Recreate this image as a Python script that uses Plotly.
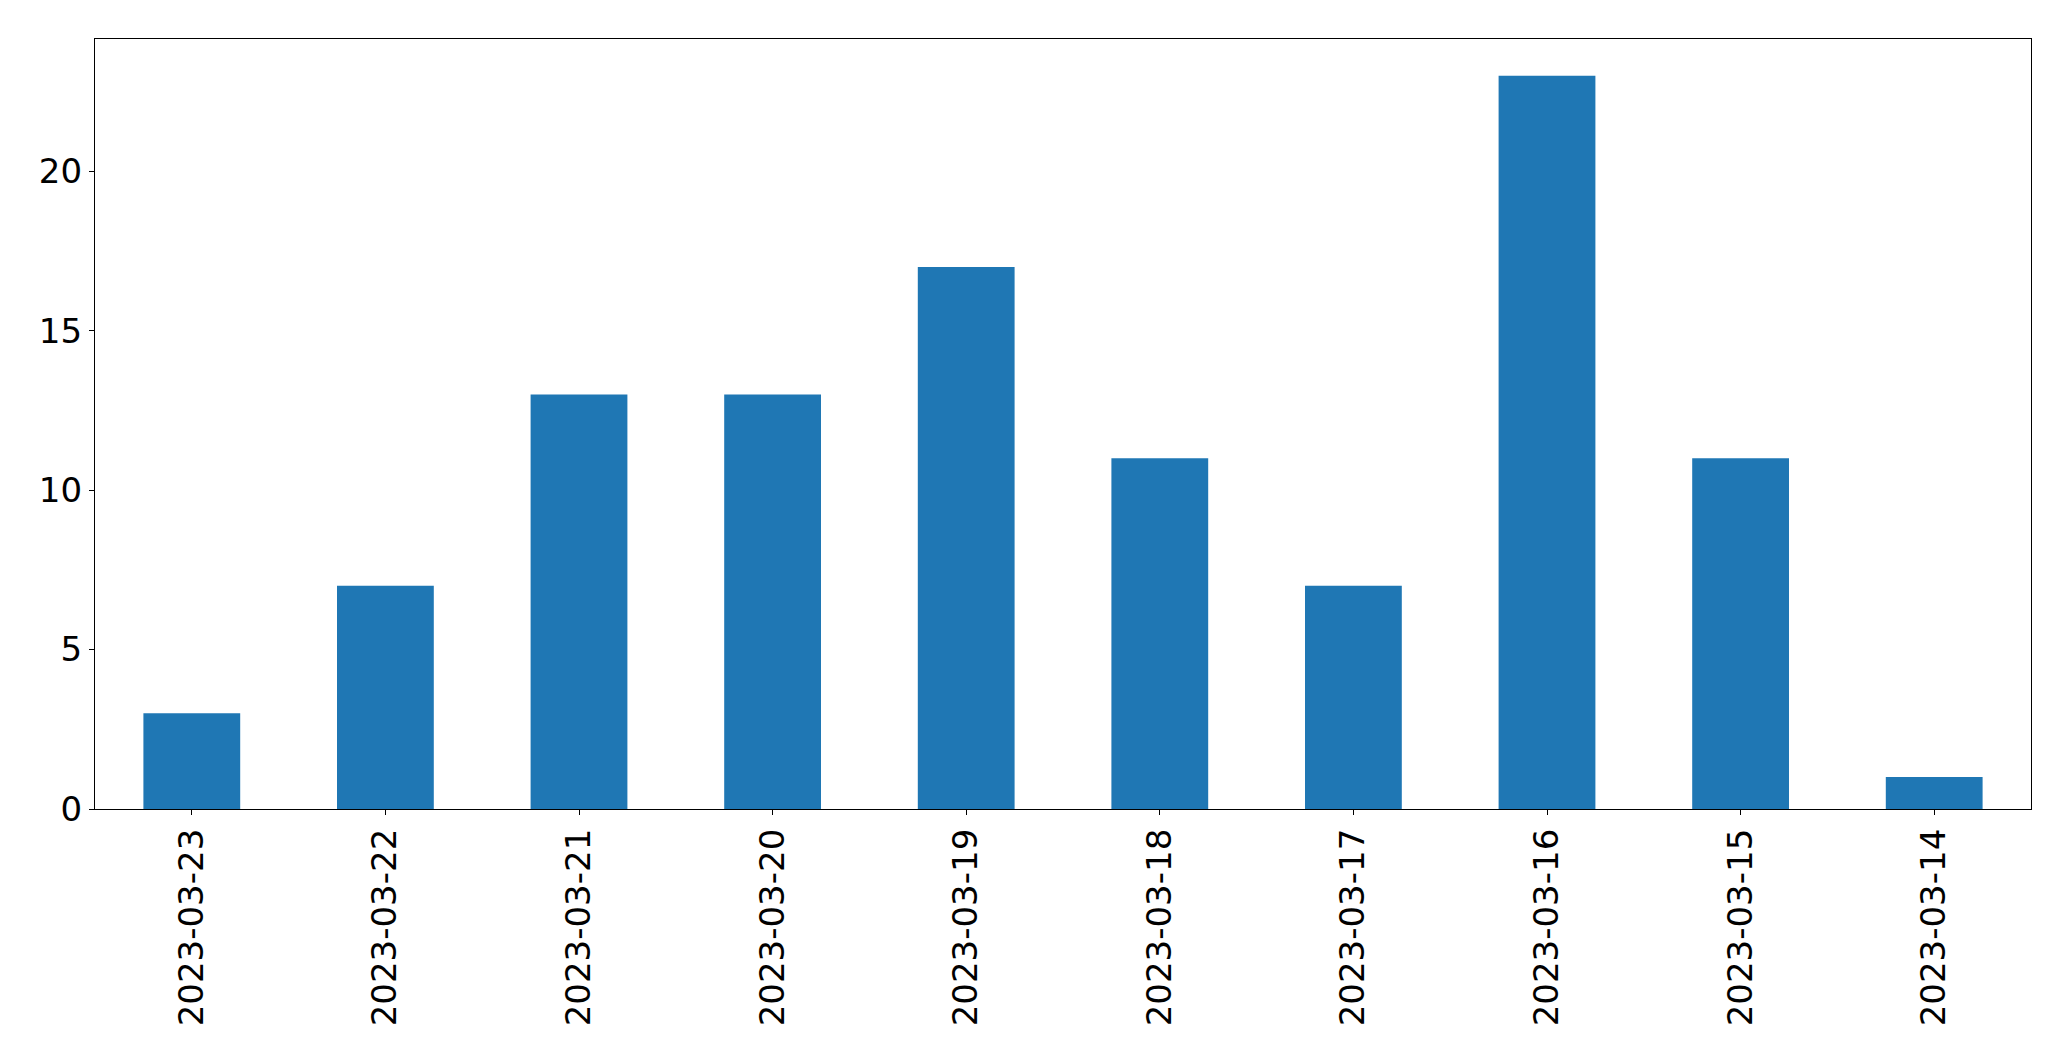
import plotly.graph_objects as go

dates = ["2023-03-23", "2023-03-22", "2023-03-21", "2023-03-20", "2023-03-19",
         "2023-03-18", "2023-03-17", "2023-03-16", "2023-03-15", "2023-03-14"]
counts = [3, 7, 13, 13, 17, 11, 7, 23, 11, 1]
y_ticks = [0, 5, 10, 15, 20]

fig = go.Figure(go.Bar(x=dates, y=counts, width=0.5, marker_color="#1f77b4",
                       marker_line_width=0))

font = dict(family="DejaVu Sans", size=34, color="black")
# page body has an 8px default margin; size the figure to fit inside it
fig.update_layout(
    width=2055, height=1045,
    margin=dict(l=87, r=32, t=31, b=244),
    paper_bgcolor="white", plot_bgcolor="white",
    showlegend=False,
    font=font,
)
fig.update_xaxes(type="category", range=[-0.5, 9.5], tickangle=-90,
                 showline=True, linecolor="black", linewidth=1.3, mirror=True,
                 ticks="outside", ticklen=5, tickwidth=1.3, tickcolor="black",
                 showgrid=False, zeroline=False, tickfont=font)
fig.update_yaxes(range=[0, 24.15], tickvals=y_ticks,
                 showline=True, linecolor="black", linewidth=1.3, mirror=True,
                 ticks="outside", ticklen=5, tickwidth=1.3, tickcolor="black",
                 showgrid=False, zeroline=False, tickfont=font)

fig.write_html("out.html")
